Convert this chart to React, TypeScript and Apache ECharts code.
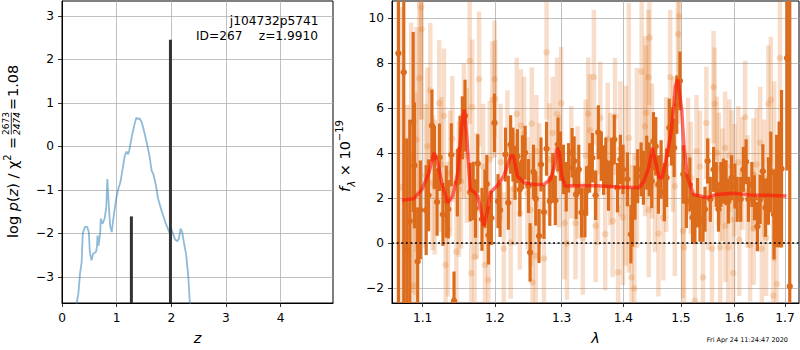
import React, { useEffect, useRef } from 'react';
import * as echarts from 'echarts';

// ---- Left panel: log p(z) ----
const zTicks = [0, 1, 2, 3, 4];
const pzTicks = [-3, -2, -1, 0, 1, 2, 3];
const pzZ = [0.25, 0.27, 0.30, 0.33, 0.36, 0.38, 0.42, 0.46, 0.49, 0.51, 0.54, 0.57, 0.62, 0.64, 0.65, 0.67, 0.70, 0.71, 0.74, 0.78, 0.81, 0.83, 0.85, 0.88, 0.91, 0.94, 0.99, 1.03, 1.07, 1.11, 1.15, 1.18, 1.21, 1.23, 1.28, 1.32, 1.36, 1.38, 1.42, 1.46, 1.50, 1.55, 1.60, 1.64, 1.67, 1.72, 1.76, 1.83, 1.89, 1.95, 1.98, 2.00, 2.03, 2.07, 2.11, 2.14, 2.17, 2.20, 2.23, 2.27, 2.31, 2.34, 2.36];
const pzLogP = [-4.0, -3.6, -3.38, -2.92, -2.66, -2.0, -1.85, -1.85, -1.97, -2.43, -2.62, -2.47, -2.43, -2.31, -2.05, -2.28, -1.97, -1.66, -1.78, -1.66, -1.40, -0.75, -1.21, -1.82, -1.97, -1.66, -1.21, -0.98, -0.82, -0.52, -0.21, -0.12, -0.18, -0.10, 0.24, 0.47, 0.66, 0.63, 0.64, 0.55, 0.36, 0.09, -0.21, -0.56, -0.63, -0.90, -1.21, -1.51, -1.74, -1.93, -2.01, -1.89, -2.01, -2.14, -2.18, -2.12, -1.89, -1.97, -2.2, -2.47, -2.96, -3.6, -4.0];
const zBars = [1.27, 1.985];
const zBarLogP = [-1.61, 2.45];

// ---- Right panel: spectrum ----
const lamTicks = [1.1, 1.2, 1.3, 1.4, 1.5, 1.6, 1.7];
const fluxTicks = [-2, 0, 2, 4, 6, 8, 10];

const darkLam = [1.0685, 1.0754, 1.0793, 1.0832, 1.0876, 1.0892, 1.0935, 1.0970, 1.1047, 1.1079, 1.1124, 1.1157, 1.1193, 1.1226, 1.1272, 1.1317, 1.1345, 1.1386, 1.1423, 1.1469, 1.1506, 1.1538, 1.1575, 1.1648, 1.1689, 1.1722, 1.1754, 1.1813, 1.1855, 1.1882, 1.1906, 1.1947, 1.1992, 1.2043, 1.2073, 1.2152, 1.2193, 1.2227, 1.2261, 1.2291, 1.2327, 1.2362, 1.2402, 1.2441, 1.2492, 1.2516, 1.2567, 1.2601, 1.2651, 1.2681, 1.2726, 1.2766, 1.2816, 1.2861, 1.2901, 1.2942, 1.2981, 1.3028, 1.3071, 1.3108, 1.3163, 1.3196, 1.3228, 1.3270, 1.3314, 1.3368, 1.3395, 1.3444, 1.3488, 1.3541, 1.3585, 1.3634, 1.3671, 1.3708, 1.3752, 1.3804, 1.3848, 1.3901, 1.3950, 1.3994, 1.4068, 1.4127, 1.4155, 1.4197, 1.4242, 1.4301, 1.4341, 1.4398, 1.4440, 1.4485, 1.4515, 1.4555, 1.4602, 1.4649, 1.4706, 1.4746, 1.4793, 1.4833, 1.4880, 1.4927, 1.4984, 1.5045, 1.5100, 1.5164, 1.5212, 1.5257, 1.5305, 1.5349, 1.5405, 1.5442, 1.5491, 1.5541, 1.5602, 1.5652, 1.5695, 1.5740, 1.5788, 1.5838, 1.5881, 1.5944, 1.6006, 1.6051, 1.6119, 1.6170, 1.6223, 1.6269, 1.6336, 1.6387, 1.6446, 1.6500, 1.6553, 1.6605, 1.6664, 1.6712, 1.6777, 1.6830, 1.6881, 1.6929, 1.7041, 1.7097];
const darkFlux = [8.45, 7.6, -0.34, 0.99, 5.39, 3.46, -0.81, 1.48, 1.47, 2.13, 5.23, 3.82, 1.83, 3.82, 1.28, 1.85, 1.51, 3.93, -2.56, 2.69, 4.16, 5.13, 5.67, 2.27, 2.32, 1.54, 3.54, 1.06, 1.98, 2.63, 0.35, 1.12, 5.35, 1.87, 1.48, 3.94, 1.80, 4.39, 3.94, 3.13, 3.87, 2.39, 3.6, 4.02, 2.54, -0.41, 3.18, 1.98, 0.32, 3.5, 1.39, 4.2, 1.87, 2.91, 1.9, 4.39, 3.87, 3.28, 2.51, 3.35, 4.02, 3.65, 2.17, 3.28, 1.36, 1.36, 2.32, 3.35, 3.8, 2.13, 4.93, 3.87, 3.25, 3.6, 2.54, 3.58, 4.61, 2.47, 3.72, 3.28, 2.84, 0.4, 1.14, 2.25, 2.98, 3.28, 2.91, 3.58, 3.28, 2.76, 4.53, 4.31, 2.61, 3.28, 2.27, 2.91, 5.13, 4.75, 4.24, 6.16, 7.22, 3.06, 1.87, 2.61, 1.14, 1.06, 1.80, 1.06, 1.06, 1.51, 3.65, 1.95, 3.28, 2.61, 1.51, 2.61, 2.76, 2.69, 1.87, 2.91, 2.54, 1.95, 1.95, 3.28, 3.62, 1.95, 2.61, 2.02, 0.74, 1.95, 3.2, 1.58, 2.32, 3.16, 1.28, 2.32, 2.61, 3.31, 8.23, -1.92];
const darkErr = [15, 15, 5, 4.5, 4, 2.8, 2.4, 2.2, 2.0, 1.6, 1.6, 1.4, 1.5, 1.5, 1.4, 1.6, 1.3, 1.4, 1.3, 1.5, 1.5, 1.4, 1.6, 1.3, 1.3, 1.3, 1.3, 1.4, 1.3, 1.3, 1.3, 1.2, 1.3, 1.2, 1.2, 1.2, 1.2, 1.3, 1.2, 1.2, 1.2, 1.2, 1.2, 1.2, 1.2, 1.3, 1.2, 1.2, 1.2, 1.2, 1.2, 1.2, 1.1, 1.1, 1.1, 1.2, 1.1, 1.1, 1.1, 1.1, 1.1, 1.1, 1.1, 1.1, 1.1, 1.1, 1.1, 1.1, 1.1, 1.1, 1.2, 1.1, 1.1, 1.1, 1.1, 1.1, 1.1, 1.1, 1.1, 1.1, 1.2, 1.3, 1.3, 1.2, 1.2, 1.2, 1.2, 1.2, 1.2, 1.2, 1.3, 1.3, 1.3, 1.3, 1.3, 1.3, 1.3, 1.3, 1.3, 1.3, 1.3, 1.3, 1.2, 1.2, 1.1, 1.1, 1.1, 1.0, 1.0, 1.0, 1.0, 1.0, 1.0, 1.0, 1.0, 1.0, 1.0, 1.0, 1.0, 1.0, 1.0, 1.0, 1.0, 1.0, 1.0, 1.0, 1.0, 1.0, 1.1, 1.1, 1.2, 1.3, 1.5, 1.8, 2.0, 2.5, 2.8, 3.5, 5, 20, 20];

const lightLam = [1.0720, 1.0801, 1.0850, 1.0882, 1.0905, 1.0921, 1.0956, 1.0978, 1.0987, 1.1040, 1.1065, 1.1102, 1.1134, 1.1160, 1.1221, 1.1250, 1.1285, 1.1309, 1.1340, 1.1370, 1.1400, 1.1455, 1.1490, 1.1520, 1.1560, 1.1600, 1.1640, 1.1662, 1.1676, 1.1709, 1.1740, 1.1772, 1.1830, 1.1855, 1.1902, 1.1924, 1.1961, 1.1993, 1.2002, 1.2080, 1.2127, 1.2180, 1.2227, 1.2280, 1.2317, 1.2362, 1.2380, 1.2426, 1.2477, 1.2526, 1.2541, 1.2552, 1.2601, 1.2611, 1.2656, 1.2726, 1.2766, 1.2806, 1.2861, 1.2927, 1.2960, 1.2991, 1.3044, 1.3083, 1.3150, 1.3217, 1.3250, 1.3335, 1.3380, 1.3422, 1.3448, 1.3513, 1.3541, 1.3580, 1.3617, 1.3698, 1.3740, 1.3780, 1.3821, 1.3860, 1.3913, 1.3950, 1.3994, 1.4040, 1.4092, 1.4137, 1.4184, 1.4230, 1.4311, 1.4370, 1.4388, 1.4428, 1.4432, 1.4445, 1.4490, 1.4540, 1.4602, 1.4689, 1.4740, 1.4810, 1.4860, 1.4892, 1.4950, 1.4967, 1.5039, 1.5058, 1.5132, 1.5180, 1.5256, 1.5286, 1.5350, 1.5405, 1.5467, 1.5500, 1.5573, 1.5602, 1.5621, 1.5665, 1.5700, 1.5727, 1.5770, 1.5820, 1.5826, 1.5881, 1.5900, 1.5944, 1.5974, 1.6000, 1.6071, 1.6091, 1.6150, 1.6203, 1.6250, 1.6302, 1.6367, 1.6372, 1.6430, 1.6500, 1.6533, 1.6580, 1.6618, 1.6664, 1.6712, 1.6763, 1.6780, 1.6830, 1.6896];
const lightFlux = [2.5, -0.86, 3.8, -1.89, 2.2, 4.61, 7.34, 10.49, 9.51, 3.0, 4.31, 6.79, 2.69, 2.5, 6.23, 3.5, 5.66, -0.96, 0.62, 3.1, 4.64, -0.38, 2.4, 2.75, 5.0, 3.9, 8.11, -1.33, 6.06, -0.61, 2.1, 7.30, 3.4, -0.97, -1.64, 3.72, 6.38, 7.30, 6.42, 3.6, -0.24, 4.3, 0.03, 2.4, 5.75, 1.32, 5.23, 4.9, 2.22, 1.48, 5.32, -1.74, -0.56, 4.09, 2.84, -0.68, 8.49, 3.72, 4.9, 5.75, 3.2, 6.23, 0.89, -0.01, 3.6, 0.89, 2.7, 0.21, 3.9, 5.76, 5.02, 7.38, 0.77, 2.4, 5.57, 0.4, 4.64, 3.3, 0.99, 5.64, -1.3, 4.2, 1.14, 3.0, 4.68, -1.52, -2.01, 3.8, 7.63, 5.2, 5.8, 7.38, 1.48, 9.14, 4.1, 2.6, 0.43, 1.14, 3.5, 7.38, 4.4, 2.54, 9.3, 10.1, 0.55, -0.19, 3.87, 2.9, -2.56, 4.09, 3.4, -1.52, 5.35, 2.2, -0.24, 6.94, 6.2, 4.02, 3.3, -0.19, 2.6, 4.24, 0.77, -0.19, 3.9, 3.42, -1.33, 2.8, 3.6, 0.15, 3.1, 5.61, 2.3, -0.09, 3.06, 0.65, 3.5, 4.46, -0.24, 2.9, 0.25, 6.19, 6.38, -2.33, 3.2, -1.82, 8.23];
const lightErr = [8, 7, 6, 6, 4.5, 5, 5, 5, 4, 3.2, 3.5, 3, 3, 3, 2.8, 3, 3, 3, 3, 2.8, 2.8, 3, 3, 3, 3, 3, 2.8, 3, 3, 2.8, 2.8, 3, 2.8, 2.8, 2.6, 2.6, 2.6, 2.6, 2.6, 2.6, 2.5, 2.5, 2.5, 2.5, 2.5, 2.5, 2.5, 2.5, 2.5, 2.5, 2.5, 2.5, 2.5, 2.5, 2.5, 2.5, 3, 2.5, 2.5, 2.5, 2.5, 2.5, 2.5, 2.5, 2.5, 2.5, 2.5, 2.5, 2.5, 2.5, 2.5, 3, 2.5, 2.5, 2.5, 2.5, 2.5, 2.5, 2.5, 2.6, 3, 3, 3, 4, 6, 5, 6, 4, 5, 4, 3, 3, 3, 3, 3, 3, 2.8, 2.8, 3, 3, 3, 4, 4, 4, 3, 3, 2.6, 2.5, 2.6, 2.5, 2.5, 2.5, 2.5, 2.5, 2.5, 2.5, 2.5, 2.5, 2.5, 2.5, 2.5, 2.5, 2.5, 2.5, 2.5, 2.5, 2.5, 2.5, 2.5, 2.5, 2.5, 2.5, 2.5, 2.5, 2.5, 2.5, 2.5, 2.5, 2.5, 2.6, 2.6, 2.6, 2.8, 3.5, 4, 4, 4, 5, 6];

const modelLam = [1.0733, 1.0884, 1.0992, 1.1083, 1.1152, 1.1199, 1.1267, 1.1336, 1.1405, 1.1474, 1.1529, 1.1565, 1.1602, 1.1648, 1.1703, 1.1750, 1.1795, 1.1841, 1.1888, 1.1933, 1.2028, 1.2127, 1.2227, 1.2268, 1.2327, 1.2426, 1.2576, 1.2726, 1.2826, 1.2886, 1.2927, 1.2966, 1.3002, 1.3055, 1.3298, 1.3568, 1.3892, 1.4268, 1.4351, 1.4438, 1.4495, 1.4555, 1.4612, 1.4669, 1.4727, 1.4814, 1.4871, 1.4901, 1.4946, 1.5015, 1.5057, 1.5119, 1.5230, 1.5480, 1.5666, 1.5975, 1.6302, 1.6632, 1.7029];
const modelFlux = [1.91, 1.98, 2.39, 3.13, 4.02, 3.58, 2.54, 1.80, 2.10, 3.13, 5.2, 5.94, 4.61, 2.39, 2.27, 2.10, 1.51, 0.77, 1.36, 2.25, 2.54, 2.98, 3.87, 3.9, 2.98, 2.69, 2.61, 2.61, 2.84, 3.42, 4.24, 4.02, 2.98, 2.54, 2.55, 2.55, 2.50, 2.47, 2.76, 3.42, 4.24, 3.58, 2.91, 2.91, 3.58, 4.75, 5.94, 6.97, 7.27, 5.94, 4.31, 2.98, 2.17, 2.02, 2.17, 2.22, 2.14, 2.13, 2.10];

const FONT = 'DejaVu Sans';
const minus = (v: number) => String(v).replace('-', '\u2212');
const log10 = (v: number) => Math.log10(v);

function errRender(w: number, r: number, color: string) {
  return (params: any, api: any) => {
    const x = api.value(0);
    const y = api.value(1);
    const e = api.value(2);
    const cs = params.coordSys;
    const pTop = api.coord([x, y + e]);
    const pBot = api.coord([x, y - e]);
    const c = api.coord([x, y]);
    const top = Math.max(pTop[1], cs.y);
    const bot = Math.min(pBot[1], cs.y + cs.height);
    const children: any[] = [];
    if (bot > top) {
      children.push({ type: 'rect', shape: { x: c[0] - w / 2, y: top, width: w, height: bot - top }, style: { fill: color } });
    }
    if (c[1] >= cs.y && c[1] <= cs.y + cs.height) {
      children.push({ type: 'circle', shape: { cx: c[0], cy: c[1], r }, style: { fill: color } });
    }
    return { type: 'group', children };
  };
}

export default function App() {
  const ref = useRef<HTMLDivElement>(null);
  useEffect(() => {
    document.body.style.margin = '0';
    if (!ref.current) return;
    const chart = echarts.init(ref.current, null, { renderer: 'svg' });
    const tickLabel = { fontFamily: FONT, fontSize: 12.2, color: '#000' };
    const splitLine = { show: true, lineStyle: { color: '#b0b0b0', width: 0.8 } };
    const axisLine = { show: true, onZero: false, lineStyle: { color: '#000', width: 1 } };
    const axisTick = (vals: number[]) => ({ show: true, length: 4, inside: false, customValues: vals, lineStyle: { color: '#000', width: 0.8 } });

    const option: any = {
      animation: false,
      backgroundColor: '#fff',
      grid: [
        { left: 62, top: 1, width: 271, height: 303, show: true, borderColor: '#000', borderWidth: 1, backgroundColor: 'transparent' },
        { left: 392, top: 1, width: 407, height: 303, show: true, borderColor: '#000', borderWidth: 1, backgroundColor: 'transparent' },
      ],
      xAxis: [
        {
          type: 'value', gridIndex: 0, min: 0, max: 4.96,
          axisLine, axisTick: axisTick(zTicks), splitLine,
          axisLabel: { ...tickLabel, margin: 9, customValues: zTicks, formatter: (v: number) => minus(v) },
          name: 'z', nameLocation: 'middle', nameGap: 27,
          nameTextStyle: { fontFamily: FONT, fontSize: 14.5, fontStyle: 'italic', color: '#000' },
        },
        {
          type: 'value', gridIndex: 1, min: log10(1.0603), max: log10(1.7288),
          axisLine, axisTick: axisTick(lamTicks.map(log10)), splitLine,
          axisLabel: { ...tickLabel, margin: 9, customValues: lamTicks.map(log10), formatter: (v: number) => Math.pow(10, v).toFixed(1) },
          name: 'λ', nameLocation: 'middle', nameGap: 27,
          nameTextStyle: { fontFamily: FONT, fontSize: 14.5, fontStyle: 'italic', color: '#000' },
        },
      ],
      yAxis: [
        {
          type: 'value', gridIndex: 0, min: -3.6, max: 3.34,
          axisLine, axisTick: axisTick(pzTicks), splitLine,
          axisLabel: { ...tickLabel, margin: 8, customValues: pzTicks, formatter: (v: number) => minus(v) },
        },
        {
          type: 'value', gridIndex: 1, min: -2.66, max: 10.77,
          axisLine, axisTick: axisTick(fluxTicks), splitLine,
          axisLabel: { ...tickLabel, margin: 8, customValues: fluxTicks, formatter: (v: number) => minus(v) },
        },
      ],
      series: [
        {
          type: 'line', xAxisIndex: 0, yAxisIndex: 0, clip: true, showSymbol: false, symbol: 'none',
          data: pzZ.map((z, i) => [z, pzLogP[i]]),
          lineStyle: { color: 'rgba(31,119,180,0.5)', width: 1.8 },
          z: 3,
        },
        {
          type: 'custom', xAxisIndex: 0, yAxisIndex: 0, clip: true,
          data: zBars.map((z, i) => [z, zBarLogP[i]]),
          renderItem: (params: any, api: any) => {
            const cs = params.coordSys;
            const p = api.coord([api.value(0), api.value(1)]);
            const bottom = cs.y + cs.height;
            return { type: 'rect', shape: { x: p[0] - 1.5, y: p[1], width: 3, height: bottom - p[1] }, style: { fill: '#333333' } };
          },
          z: 4,
        },
        {
          type: 'custom', xAxisIndex: 1, yAxisIndex: 1, clip: true,
          data: lightLam.map((l, i) => [log10(l), lightFlux[i], lightErr[i]]),
          renderItem: errRender(4.5, 3.3, 'rgba(226,115,35,0.24)'),
          z: 2,
        },
        {
          type: 'custom', xAxisIndex: 1, yAxisIndex: 1, clip: true,
          data: darkLam.map((l, i) => [log10(l), darkFlux[i], darkErr[i]]),
          renderItem: errRender(3.2, 3.2, '#dc6c1c'),
          z: 3,
        },
        {
          type: 'line', xAxisIndex: 1, yAxisIndex: 1, clip: true, showSymbol: false, symbol: 'none',
          data: modelLam.map((l, i) => [log10(l), modelFlux[i]]),
          lineStyle: { color: 'rgba(255,20,10,0.62)', width: 3.5 },
          z: 5,
          markLine: {
            silent: true, symbol: ['none', 'none'], label: { show: false },
            lineStyle: { color: '#000', width: 1.7, type: [2, 2.6] },
            data: [{ yAxis: 0 }],
          },
        },
      ],
      graphic: [
        { type: 'text', x: 318.5, y: 20.7, style: { text: 'j104732p5741', fontFamily: FONT, fontSize: 12.2, fill: '#000', align: 'right', verticalAlign: 'middle' }, z: 10 },
        { type: 'text', x: 196, y: 35.7, style: { text: 'ID=267', fontFamily: FONT, fontSize: 12.2, fill: '#000', align: 'left', verticalAlign: 'middle' }, z: 10 },
        { type: 'text', x: 318, y: 35.7, style: { text: 'z=1.9910', fontFamily: FONT, fontSize: 12.2, fill: '#000', align: 'right', verticalAlign: 'middle' }, z: 10 },
        {
          type: 'group', x: 12.5, y: 238, rotation: Math.PI / 2,
          children: [
            {
              type: 'text', x: 0, y: 0,
              style: {
                text: '{t|log }{i|p}{t|(}{i|z}{t|) / χ}{s|2}',
                align: 'left', verticalAlign: 'middle', fill: '#000',
                rich: {
                  t: { fontFamily: FONT, fontSize: 14.5, lineHeight: 20, verticalAlign: 'middle' },
                  i: { fontFamily: FONT, fontSize: 14.5, fontStyle: 'italic', lineHeight: 20, verticalAlign: 'middle' },
                  s: { fontFamily: FONT, fontSize: 10, lineHeight: 12, verticalAlign: 'top' },
                },
              },
            },
            { type: 'text', x: 95, y: 0, style: { text: '=', fontFamily: FONT, fontSize: 14.5, fill: '#000', align: 'center', verticalAlign: 'middle' } },
            { type: 'text', x: 114.5, y: -6.5, style: { text: '2673', fontFamily: FONT, fontSize: 9, fill: '#000', align: 'center', verticalAlign: 'middle' } },
            { type: 'line', shape: { x1: 103.5, y1: -1.2, x2: 125.5, y2: -1.2 }, style: { stroke: '#000', lineWidth: 0.8 } },
            { type: 'text', x: 114.5, y: 4.6, style: { text: '2474', fontFamily: FONT, fontSize: 9, fontStyle: 'italic', fill: '#000', align: 'center', verticalAlign: 'middle' } },
            { type: 'text', x: 134, y: 0, style: { text: '=', fontFamily: FONT, fontSize: 14.5, fill: '#000', align: 'center', verticalAlign: 'middle' } },
            { type: 'text', x: 141, y: 0, style: { text: '1.08', fontFamily: FONT, fontSize: 14.5, fill: '#000', align: 'left', verticalAlign: 'middle' } },
          ],
        },
        {
          type: 'text', x: 345, y: 156, rotation: Math.PI / 2,
          style: {
            text: '{i|f}{b|λ}{t| × 10}{s|−19}',
            align: 'center', verticalAlign: 'middle', fill: '#000',
            rich: {
              i: { fontFamily: FONT, fontSize: 14.5, fontStyle: 'italic', lineHeight: 22, verticalAlign: 'middle' },
              b: { fontFamily: FONT, fontSize: 10, fontStyle: 'italic', lineHeight: 14, verticalAlign: 'bottom' },
              t: { fontFamily: FONT, fontSize: 14.5, lineHeight: 22, verticalAlign: 'middle' },
              s: { fontFamily: FONT, fontSize: 10, lineHeight: 12, verticalAlign: 'top' },
            },
          },
        },
        { type: 'text', x: 788, y: 340, style: { text: 'Fri Apr 24 11:24:47 2020', fontFamily: FONT, fontSize: 6.5, fill: '#000', align: 'right', verticalAlign: 'middle' } },
      ],
    };
    chart.setOption(option);
    return () => chart.dispose();
  }, []);
  return <div ref={ref} style={{ width: 800, height: 350 }} />;
}
